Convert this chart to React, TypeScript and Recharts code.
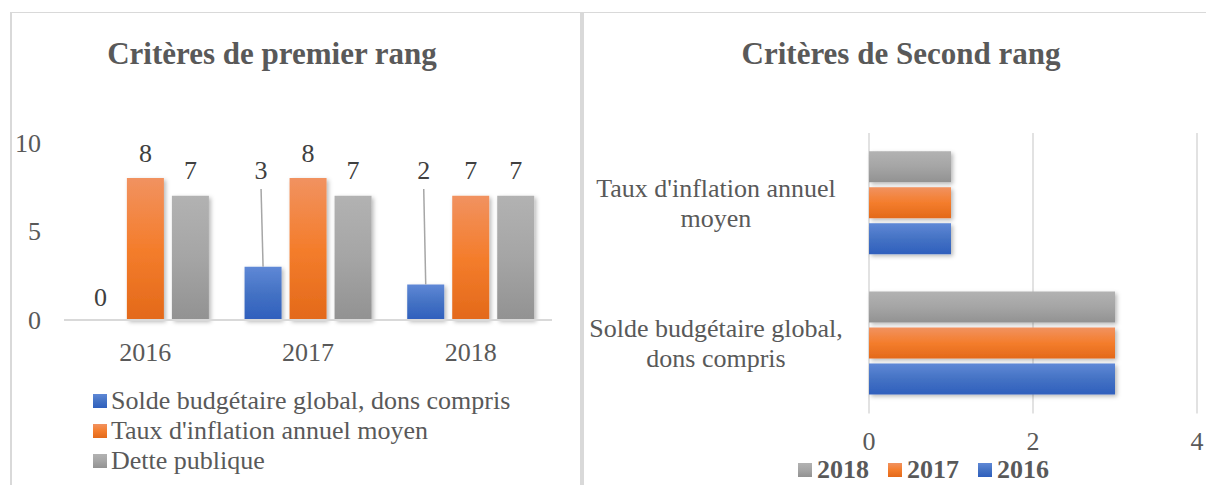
import React from 'react';
import { BarChart, Bar, XAxis, YAxis, CartesianGrid, LabelList } from 'recharts';

const FONT = '"Liberation Serif", "Times New Roman", Tinos, serif';

// ---- Left chart data ----
const years = ['2016', '2017', '2018'];
const soldeValues = [0, 3, 2];
const inflationValues = [8, 8, 7];
const detteValues = [7, 7, 7];
const leftTicks = [0, 5, 10];
const leftSeriesNames = [
  'Solde budgétaire global, dons compris',
  "Taux d'inflation annuel moyen",
  'Dette publique',
];

// ---- Right chart data ----
const criteria = ["Taux d'inflation annuel moyen", 'Solde budgétaire global, dons compris'];
const values2018 = [1, 3];
const values2017 = [1, 3];
const values2016 = [1, 3];
const rightTicks = [0, 2, 4];
const rightSeriesNames = ['2018', '2017', '2016'];

const leftData = years.map((y, i) => ({
  year: y,
  solde: soldeValues[i],
  inflation: inflationValues[i],
  dette: detteValues[i],
}));

const rightData = criteria.map((c, i) => ({
  name: c,
  y2018: values2018[i],
  y2017: values2017[i],
  y2016: values2016[i],
}));

const COLORS = {
  blue: ['#5F88D6', '#4472C4', '#2F5FBD'],
  orange: ['#F19260', '#F47D2C', '#E3691A'],
  gray: ['#B2B2B2', '#A5A5A5', '#929292'],
};

const Gradients = ({ prefix }: { prefix: string }) => (
  <defs>
    {Object.entries(COLORS).map(([k, c]) => (
      <linearGradient key={k} id={`${prefix}-${k}`} x1="0" y1="0" x2="0" y2="1">
        <stop offset="0%" stopColor={c[0]} />
        <stop offset="50%" stopColor={c[1]} />
        <stop offset="100%" stopColor={c[2]} />
      </linearGradient>
    ))}
    <filter id={`${prefix}-shadow`} x="-20%" y="-20%" width="150%" height="150%">
      <feDropShadow dx="2" dy="2" stdDeviation="2" floodColor="#000" floodOpacity="0.28" />
    </filter>
  </defs>
);

const makeShape = (filterId: string) => (p: any) => {
  const { x, y, width, height, fill } = p;
  if (!height || !width || height <= 0 || width <= 0) return <g />;
  return <rect x={x} y={y} width={width} height={height} fill={fill} filter={`url(#${filterId})`} />;
};

const getBox = (props: any) => {
  const vb = props.viewBox && props.viewBox.width !== undefined ? props.viewBox : props;
  return { x: Number(vb.x), y: Number(vb.y), width: Number(vb.width), height: Number(vb.height) };
};

const TopLabel = (props: any) => {
  const { x, y, width } = getBox(props);
  return (
    <text x={x + width / 2} y={y - 25} textAnchor="middle" dominantBaseline="central"
      fontSize={26} fill="#404040" fontFamily={FONT}>
      {props.value}
    </text>
  );
};

const BlueLabel = (props: any) => {
  const { x, y, width, height } = getBox(props);
  const cx = x + width / 2;
  const v = Number(props.value);
  if (v === 0) {
    return (
      <text x={cx} y={y - 23} textAnchor="middle" dominantBaseline="central"
        fontSize={26} fill="#404040" fontFamily={FONT}>
        {props.value}
      </text>
    );
  }
  const bottom = y + height;
  const ly = bottom - 150;
  return (
    <g>
      <line x1={cx - 2} y1={ly + 19} x2={cx} y2={y} stroke="#A6A6A6" strokeWidth={1.5} />
      <text x={cx - 2} y={ly} textAnchor="middle" dominantBaseline="central"
        fontSize={26} fill="#404040" fontFamily={FONT}>
        {props.value}
      </text>
    </g>
  );
};

const wrapLabel = (s: string, maxChars: number) => {
  const words = s.split(' ');
  const lines: string[] = [];
  let cur = '';
  words.forEach((w) => {
    const test = cur ? cur + ' ' + w : w;
    if (test.length > maxChars && cur) {
      lines.push(cur);
      cur = w;
    } else {
      cur = test;
    }
  });
  if (cur) lines.push(cur);
  return lines;
};

const CategoryTick = (props: any) => {
  const { x, y, payload } = props;
  const lines = wrapLabel(String(payload.value), 24);
  const start = -((lines.length - 1) * 30) / 2 + 0.5;
  return (
    <g>
      {lines.map((l, i) => (
        <text key={i} x={x - 153} y={y + start + i * 30} textAnchor="middle" dominantBaseline="central"
          fontSize={26} fill="#595959" fontFamily={FONT}>
          {l}
        </text>
      ))}
    </g>
  );
};

const cssGrad = (c: string[]) => `linear-gradient(to bottom, ${c[0]}, ${c[1]}, ${c[2]})`;
const leftColors = [COLORS.blue, COLORS.orange, COLORS.gray];
const rightColors = [COLORS.gray, COLORS.orange, COLORS.blue];

export default function App() {
  return (
    <div style={{ position: 'absolute', left: 0, top: 0, width: 1206, height: 485, background: '#fff', overflow: 'hidden', fontFamily: FONT }}>
      {/* frame lines */}
      <div style={{ position: 'absolute', left: 10, top: 12, width: 1196, height: 1, background: '#D9D9D9' }} />
      <div style={{ position: 'absolute', left: 10, top: 12, width: 2, height: 473, background: '#D9D9D9' }} />
      <div style={{ position: 'absolute', left: 580, top: 12, width: 4, height: 473, background: '#D9D9D9' }} />

      {/* titles */}
      <div style={{ position: 'absolute', left: 72, top: 34, width: 400, textAlign: 'center', fontSize: 31, fontWeight: 'bold', color: '#595959', lineHeight: '40px' }}>
        Critères de premier rang
      </div>
      <div style={{ position: 'absolute', left: 701, top: 34, width: 400, textAlign: 'center', fontSize: 31, fontWeight: 'bold', color: '#595959', lineHeight: '40px' }}>
        Critères de Second rang
      </div>

      {/* left chart */}
      <div style={{ position: 'absolute', left: 0, top: 0 }}>
        <BarChart width={580} height={485} data={leftData}
          margin={{ top: 142.5, right: 28, bottom: 125, left: 0 }}
          barCategoryGap="11%" barGap={8}>
          <Gradients prefix="L" />
          <XAxis dataKey="year" height={40} tickSize={0} tickMargin={23}
            axisLine={{ stroke: '#D9D9D9', strokeWidth: 2 }} tickLine={false}
            tick={{ fontSize: 26, fill: '#595959', fontFamily: FONT }} />
          <YAxis domain={[0, 10]} ticks={leftTicks} width={64} tickSize={0} tickMargin={23}
            axisLine={false} tickLine={false}
            tick={{ fontSize: 26, fill: '#595959', fontFamily: FONT }} />
          <Bar dataKey="solde" fill="url(#L-blue)" isAnimationActive={false} shape={makeShape('L-shadow')}>
            <LabelList dataKey="solde" content={BlueLabel} />
          </Bar>
          <Bar dataKey="inflation" fill="url(#L-orange)" isAnimationActive={false} shape={makeShape('L-shadow')}>
            <LabelList dataKey="inflation" content={TopLabel} />
          </Bar>
          <Bar dataKey="dette" fill="url(#L-gray)" isAnimationActive={false} shape={makeShape('L-shadow')}>
            <LabelList dataKey="dette" content={TopLabel} />
          </Bar>
        </BarChart>
      </div>

      {/* left legend */}
      <div style={{ position: 'absolute', left: 93, top: 386 }}>
        {leftSeriesNames.map((n, i) => (
          <div key={n} style={{ display: 'flex', alignItems: 'center', height: 30 }}>
            <div style={{ width: 14, height: 14, background: cssGrad(leftColors[i]), marginRight: 4 }} />
            <span style={{ fontSize: 26, lineHeight: '30px', color: '#595959', whiteSpace: 'nowrap' }}>{n}</span>
          </div>
        ))}
      </div>

      {/* right chart */}
      <div style={{ position: 'absolute', left: 580, top: 0 }}>
        <BarChart width={626} height={485} data={rightData} layout="vertical"
          margin={{ top: 133, right: 9, bottom: 41.5, left: 0 }}
          barCategoryGap="13%" barGap={5}>
          <Gradients prefix="R" />
          <CartesianGrid horizontal={false} stroke="#D9D9D9" strokeWidth={1.5} />
          <XAxis type="number" domain={[0, 4]} ticks={rightTicks} height={30} tickSize={0} tickMargin={18}
            axisLine={false} tickLine={false}
            tick={{ fontSize: 26, fill: '#595959', fontFamily: FONT }} />
          <YAxis type="category" dataKey="name" width={289} tickSize={0} tickMargin={0}
            axisLine={false} tickLine={false} tick={<CategoryTick />} />
          <Bar dataKey="y2018" fill="url(#R-gray)" isAnimationActive={false} shape={makeShape('R-shadow')} />
          <Bar dataKey="y2017" fill="url(#R-orange)" isAnimationActive={false} shape={makeShape('R-shadow')} />
          <Bar dataKey="y2016" fill="url(#R-blue)" isAnimationActive={false} shape={makeShape('R-shadow')} />
        </BarChart>
      </div>

      {/* right legend */}
      <div style={{ position: 'absolute', left: 798, top: 458, height: 24, display: 'flex', alignItems: 'center' }}>
        {rightSeriesNames.map((n, i) => (
          <div key={n} style={{ display: 'flex', alignItems: 'center', marginRight: 19 }}>
            <div style={{ width: 14, height: 14, background: cssGrad(rightColors[i]), marginRight: 5 }} />
            <span style={{ fontSize: 26, lineHeight: '24px', fontWeight: 'bold', color: '#595959' }}>{n}</span>
          </div>
        ))}
      </div>
    </div>
  );
}
